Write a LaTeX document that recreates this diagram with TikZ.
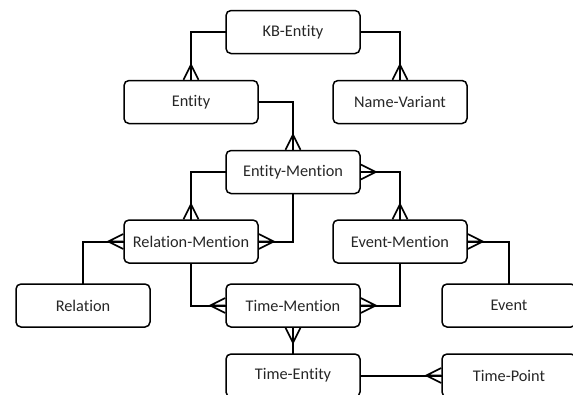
\documentclass[tikz,border=0pt]{standalone}
\usepackage{fontspec}
\setmainfont{Carlito}[Ligatures=NoCommon]
\begin{document}
\begin{tikzpicture}[x=1pt,y=-1pt,
  ent/.style={draw=black, line width=1.5pt, rounded corners=5pt, minimum width=134pt, minimum height=43pt, inner sep=0pt, font=\fontsize{16.3}{19}\selectfont, text=black!85},
  conn/.style={line width=2pt, line cap=rect},
  crow/.pic={\draw[line width=1.6pt] (-7.5,0) -- (0,-15) -- (7.5,0) (0,0) -- (0,-15);}
]
\useasboundingbox (0,0) rectangle (573,394);
\node[ent] (kb)  at (293,32)    {KB-Entity};
\node[ent] (ent) at (191,102)   {Entity};
\node[ent] (nv)  at (400,102)   {Name-Variant};
\node[ent] (em)  at (293,172)   {Entity-Mention};
\node[ent] (rm)  at (191,241.5) {Relation-Mention};
\node[ent] (evm) at (400,241.5) {Event-Mention};
\node[ent] (rel) at (83,305.5)  {Relation};
\node[ent] (tm)  at (293,305.5) {Time-Mention};
\node[ent] (ev)  at (509,305.5) {Event};
\node[ent] (te)  at (293,375.5) {Time-Entity};
\node[ent] (tp)  at (509,375.5) {Time-Point};

\draw[conn] (kb.west) -| (ent.north);
\draw[conn] (kb.east) -| (nv.north);
\draw[conn] (ent.east) -| (em.north);
\draw[conn] (em.west) -| (rm.north);
\draw[conn] (em.east) -| (evm.north);
\draw[conn] (em.south) |- (rm.east);
\draw[conn] (rm.west) -| (rel.north);
\draw[conn] (rm.south) |- (tm.west);
\draw[conn] (evm.east) -| (ev.north);
\draw[conn] (evm.south) |- (tm.east);
\draw[conn] (tm.south) -- (te.north);
\draw[conn] (te.east) -- (tp.west);

\pic at (ent.north) {crow};
\pic at (nv.north) {crow};
\pic at (em.north) {crow};
\pic at (rm.north) {crow};
\pic at (evm.north) {crow};
\pic[rotate=-90] at (em.east) {crow};
\pic[rotate=-90] at (rm.east) {crow};
\pic[rotate=-90] at (evm.east) {crow};
\pic[rotate=-90] at (tm.east) {crow};
\pic[rotate=90] at (rm.west) {crow};
\pic[rotate=90] at (tm.west) {crow};
\pic[rotate=90] at (tp.west) {crow};
\pic[rotate=180] at (tm.south) {crow};
\end{tikzpicture}
\end{document}
